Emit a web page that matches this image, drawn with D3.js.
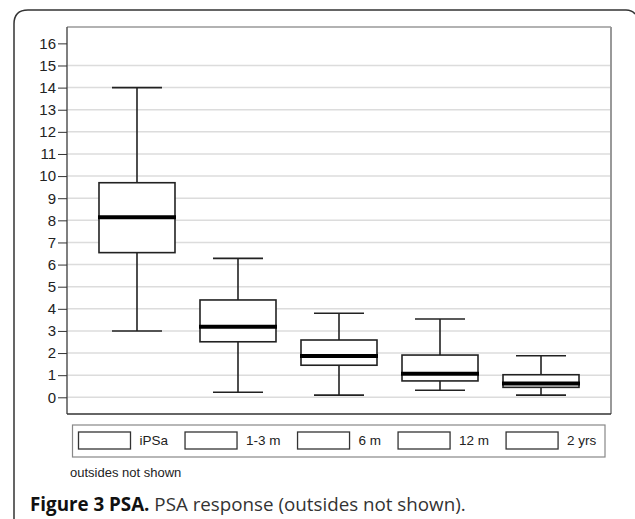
<!DOCTYPE html>
<meta charset="utf-8">
<style>
    body { margin: 0; background: #fff; }
    svg { display: block; font-family: "Liberation Sans", Arial, sans-serif; }
    .grid line { stroke: #dcdcdc; stroke-width: 1.5; }
    .box rect { fill: #fff; stroke: #222; stroke-width: 1.6; }
    .box line { stroke: #222; stroke-width: 1.6; }
    .box .median { stroke: #000; stroke-width: 4; }
</style>
<svg width="635" height="519"></svg>
<script src="https://d3js.org/d3.v7.min.js"></script>
<script>

    var groups = ["iPSa", "1-3 m", "6 m", "12 m", "2 yrs"];
    var whiskerLow = [3.0, 0.23, 0.10, 0.32, 0.10];
    var q1 = [6.54, 2.51, 1.45, 0.74, 0.45];
    var median = [8.14, 3.19, 1.87, 1.07, 0.62];
    var q3 = [9.70, 4.40, 2.59, 1.91, 1.02];
    var whiskerHigh = [14.0, 6.28, 3.80, 3.54, 1.88];
    var yTicks = d3.range(0, 17);
    var gridValues = d3.range(0, 16);

    var svg = d3.select("svg");

    var plot = {left: 67, right: 611, top: 27, bottom: 414};

    // outer frame (rounded top-left corner, curl at top-right)
    svg.append("path")
        .attr("d", "M14,519 L14,24 Q14,10 28,10 L626,10 Q632,10 635,14")
        .attr("fill", "none")
        .attr("stroke", "#333")
        .attr("stroke-width", 1.5);

    var x = d3.scalePoint()
        .domain(groups)
        .range([plot.left, plot.right])
        .padding(0.693);

    var y = d3.scaleLinear()
        .domain([-0.755, 16.74])
        .range([plot.bottom, plot.top]);

    var data = groups.map(function(g, i) {
        return {g: g, lo: whiskerLow[i], q1: q1[i], med: median[i], q3: q3[i], hi: whiskerHigh[i]};
    });

    svg.append("g")
        .attr("class", "grid")
        .selectAll("line")
        .data(gridValues)
        .join("line")
        .attr("x1", plot.left)
        .attr("x2", plot.right)
        .attr("y1", function(d) { return y(d); })
        .attr("y2", function(d) { return y(d); });

    // plot frame
    svg.append("line").attr("x1", plot.left).attr("x2", plot.right)
        .attr("y1", plot.top).attr("y2", plot.top)
        .attr("stroke", "#999").attr("stroke-width", 1.5);
    svg.append("line").attr("x1", plot.right).attr("x2", plot.right)
        .attr("y1", plot.top).attr("y2", plot.bottom)
        .attr("stroke", "#999").attr("stroke-width", 2);

    var yAxis = svg.append("g")
        .attr("transform", "translate(" + plot.left + ",0)")
        .call(d3.axisLeft(y).tickValues(yTicks).tickSize(9).tickPadding(2).tickSizeOuter(0));
    yAxis.select(".domain").attr("stroke", "#555").attr("stroke-width", 1.5)
        .attr("d", "M0," + plot.top + "V" + plot.bottom);
    yAxis.selectAll(".tick line").attr("stroke", "#333");
    yAxis.selectAll(".tick text")
        .attr("fill", "#222")
        .style("font-size", "15px")
        .style("font-family", "Liberation Sans, Arial, sans-serif");

    svg.append("line").attr("x1", plot.left).attr("x2", plot.right)
        .attr("y1", plot.bottom).attr("y2", plot.bottom)
        .attr("stroke", "#333").attr("stroke-width", 1.5);

    var boxW = 76, capW = 50;

    var box = svg.append("g").attr("class", "box")
        .selectAll("g")
        .data(data)
        .join("g")
        .attr("transform", function(d) { return "translate(" + x(d.g) + ",0)"; });

    box.append("line")
        .attr("y1", function(d) { return y(d.hi); })
        .attr("y2", function(d) { return y(d.q3); });
    box.append("line")
        .attr("y1", function(d) { return y(d.q1); })
        .attr("y2", function(d) { return y(d.lo); });
    box.append("line")
        .attr("x1", -capW / 2).attr("x2", capW / 2)
        .attr("y1", function(d) { return y(d.hi); })
        .attr("y2", function(d) { return y(d.hi); });
    box.append("line")
        .attr("x1", -capW / 2).attr("x2", capW / 2)
        .attr("y1", function(d) { return y(d.lo); })
        .attr("y2", function(d) { return y(d.lo); });
    box.append("rect")
        .attr("x", -boxW / 2)
        .attr("width", boxW)
        .attr("y", function(d) { return y(d.q3); })
        .attr("height", function(d) { return y(d.q1) - y(d.q3); });
    box.append("line")
        .attr("class", "median")
        .attr("x1", -boxW / 2 - 1).attr("x2", boxW / 2 + 1)
        .attr("y1", function(d) { return y(d.med); })
        .attr("y2", function(d) { return y(d.med); });

    // legend
    svg.append("rect")
        .attr("x", 72.5).attr("y", 425)
        .attr("width", 532.5).attr("height", 32)
        .attr("fill", "#fff")
        .attr("stroke", "#888")
        .attr("stroke-width", 1.2);

    var lx = 78.5;
    groups.forEach(function(g) {
        svg.append("rect")
            .attr("x", lx).attr("y", 432)
            .attr("width", 52).attr("height", 17)
            .attr("fill", "#fff")
            .attr("stroke", "#333")
            .attr("stroke-width", 1.3);
        var t = svg.append("text")
            .attr("x", lx + 61).attr("y", 445)
            .attr("fill", "#222")
            .style("font-size", "13.5px")
            .text(g);
        lx += 61 + t.node().getComputedTextLength() + 17;
    });

    svg.append("text")
        .attr("x", 70).attr("y", 477)
        .attr("fill", "#222")
        .style("font-size", "13px")
        .text("outsides not shown");

    // caption
    var cap = svg.append("text")
        .attr("x", 30).attr("y", 511)
        .style("font-family", "'Open Sans', 'Noto Sans', sans-serif")
        .style("font-size", "17px");
    cap.append("tspan").attr("font-weight", "bold").attr("fill", "#111").text("Figure 3 PSA.");
    cap.append("tspan").attr("fill", "#333").text(" PSA response (outsides not shown).");
    var capLen = cap.node().getComputedTextLength();
    cap.style("font-size", (17 * 436 / capLen) + "px");

</script>
